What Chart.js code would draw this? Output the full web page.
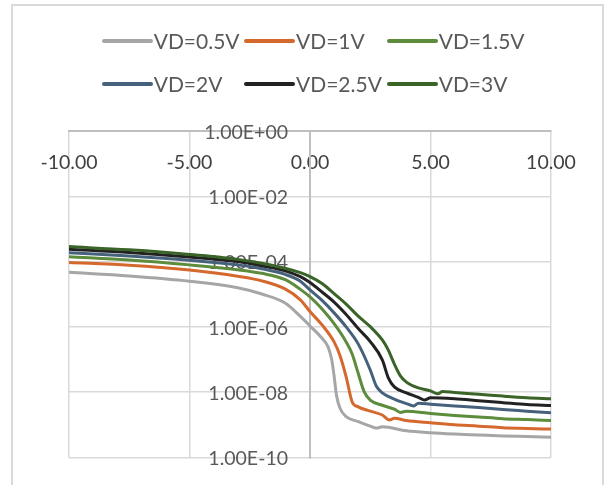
<!DOCTYPE html>
<html><head><meta charset="utf-8">
<script src="https://cdn.jsdelivr.net/npm/chart.js@4/dist/chart.umd.min.js"></script>
<style>
html,body{margin:0;padding:0;background:#fff;}
#wrap{position:relative;width:605px;height:485px;overflow:hidden;background:#fff;}
#frame{position:absolute;left:11px;top:4px;width:593px;height:520px;border:2px solid #d9d9d9;box-sizing:border-box;}
#c{position:absolute;left:0;top:0;}
#legend{position:absolute;left:0;top:0;width:605px;height:110px;font-family:Lato,"Liberation Sans",sans-serif;font-size:21px;color:#595959;}
.item{position:absolute;height:26px;line-height:26px;white-space:nowrap;}
.swatch{position:absolute;left:0;top:11px;width:51px;height:4px;border-radius:2px;}
.label{position:absolute;left:52px;top:0;}
</style>
</head><body>
<div id="wrap">
  <div id="frame"></div>
  <canvas id="c" width="605" height="485"></canvas>
  <div id="legend"></div>
</div>
<script>
// ---- data (gate voltage in V, drain current in A) ----
const seriesLabels = ['VD=0.5V','VD=1V','VD=1.5V','VD=2V','VD=2.5V','VD=3V'];

const vg05 = [-10,-7.5,-5,-3,-2,-1,-0.4,0,0.5,0.75,0.9,1.0,1.1,1.25,1.5,2,2.5,2.75,3,4,5,6,7,8,9,10];
const id05 = [4.68e-5,3.63e-5,2.51e-5,1.58e-5,1.02e-5,5.25e-6,2.09e-6,1.07e-6,4.47e-7,2.45e-7,1.0e-7,3.16e-8,7.94e-9,3.16e-9,1.78e-9,1.26e-9,9.12e-10,7.94e-10,8.71e-10,6.61e-10,5.75e-10,5.25e-10,4.90e-10,4.57e-10,4.37e-10,4.17e-10];

const vg10 = [-10,-7.5,-5,-3,-2,-1,-0.4,0,0.5,1,1.25,1.5,1.75,2,2.5,3,3.3,3.5,4,5,6,7,8,9,10];
const id10 = [9.33e-5,7.76e-5,5.50e-5,3.55e-5,2.57e-5,1.41e-5,6.76e-6,2.95e-6,1.15e-6,3.47e-7,1.29e-7,2.95e-8,5.01e-9,3.55e-9,2.63e-9,2.00e-9,1.41e-9,1.58e-9,1.35e-9,1.15e-9,1.00e-9,9.12e-10,8.13e-10,7.76e-10,7.41e-10];

const vg15 = [-10,-7.5,-5,-3,-2,-1,-0.4,0,0.5,1,1.5,1.75,2,2.25,2.5,3,3.5,3.75,4,5,6,7,8,9,10];
const id15 = [1.41e-4,1.12e-4,7.94e-5,5.62e-5,4.37e-5,2.75e-5,1.41e-5,8.32e-6,3.55e-6,1.26e-6,3.47e-7,1.48e-7,3.80e-8,1.02e-8,5.75e-9,3.98e-9,3.02e-9,2.40e-9,2.63e-9,2.24e-9,1.95e-9,1.74e-9,1.55e-9,1.45e-9,1.35e-9];

const vg20 = [-10,-7.5,-5,-3,-2,-1,-0.4,0,0.5,1,1.5,2,2.5,2.75,3,3.5,4,4.3,4.5,5,6,7,8,9,10];
const id20 = [1.86e-4,1.48e-4,1.10e-4,7.94e-5,6.03e-5,3.98e-5,2.51e-5,1.35e-5,6.46e-6,2.69e-6,1.00e-6,3.02e-7,4.79e-8,1.55e-8,9.55e-9,6.17e-9,4.47e-9,3.80e-9,4.57e-9,4.27e-9,3.80e-9,3.39e-9,2.95e-9,2.63e-9,2.34e-9];

const vg25 = [-10,-7.5,-5,-3,-2,-1,-0.4,0,0.5,1,1.5,2,2.5,3,3.25,3.5,4,4.5,4.75,5,6,7,8,9,10];
const id25 = [2.40e-4,1.91e-4,1.38e-4,1.00e-4,7.41e-5,5.13e-5,3.47e-5,2.29e-5,1.17e-5,5.75e-6,2.40e-6,8.91e-7,3.55e-7,9.77e-8,2.75e-8,1.45e-8,9.55e-9,6.92e-9,5.75e-9,6.76e-9,6.31e-9,5.50e-9,4.79e-9,4.17e-9,3.89e-9];

const vg30 = [-10,-7.5,-5,-3,-2,-1,-0.4,0,0.5,1,1.5,2,2.5,3,3.25,3.5,3.75,4,4.5,5,5.3,5.5,6,7,8,9,10];
const id30 = [2.88e-4,2.29e-4,1.66e-4,1.17e-4,8.91e-5,6.17e-5,4.57e-5,3.47e-5,2.14e-5,1.05e-5,5.01e-6,2.14e-6,1.02e-6,3.98e-7,1.95e-7,7.24e-8,3.16e-8,2.04e-8,1.35e-8,1.10e-8,8.91e-9,1.05e-8,9.77e-9,8.71e-9,7.59e-9,6.76e-9,6.31e-9];

const xTickVals = [-10,-5,0,5,10];
const xTickLabels = ['-10.00','-5.00','0.00','5.00','10.00'];
const yTickVals = [1e-10,1e-8,1e-6,1e-4,1e-2,1];
const yTickLabels = ['1.00E-10','1.00E-08','1.00E-06','1.00E-04','1.00E-02','1.00E+00'];

// ---- styling ----
const colors = ['#a6a6a6','#d5682d','#5c8c3c','#45617c','#222222','#3b6428'];
const xs = [vg05,vg10,vg15,vg20,vg25,vg30];
const ys = [id05,id10,id15,id20,id25,id30];

const datasets = seriesLabels.map((lab,i)=>({
  label: lab,
  data: xs[i].map((x,j)=>({x:x, y:ys[i][j]})),
  borderColor: colors[i],
  backgroundColor: colors[i],
  borderWidth: 3,
  pointRadius: 0,
  showLine: true,
  fill: false,
  cubicInterpolationMode: 'monotone',
  order: 5 - i
}));

const FONT = 'Lato';

// y tick labels sit 22px left of the y axis, which crosses at x = 0
const yLabelShift = {
  id: 'yLabelShift',
  afterLayout(chart){
    const ys = chart.scales.y, xsS = chart.scales.x;
    const orig = Object.getPrototypeOf(ys)._computeLabelItems;
    ys._computeLabelItems = function(ca){
      const items = orig.call(this, ca);
      const ax = xsS.getPixelForValue(0) - 22;
      items.forEach(it=>{ it.options.translation[0] = ax; it.options.translation[1] += 1.5; it.options.textAlign = 'right'; });
      return items;
    };
  }
};

const chart = new Chart(document.getElementById('c').getContext('2d'), {
  type: 'scatter',
  data: { datasets },
  options: {
    responsive: false,
    animation: false,
    layout: { padding: { left: 69, top: 131, right: 54, bottom: 27.5 } },
    plugins: { legend: { display: false }, tooltip: { enabled: false } },
    scales: {
      x: {
        type: 'linear', min: -10, max: 10,
        position: { y: 1 },
        afterBuildTicks: s => { s.ticks = xTickVals.map(v => ({ value: v })); },
        afterFit: s => { s.height = 0; },
        grid: { color: '#d9d9d9', lineWidth: 1.5, drawTicks: false },
        border: { color: '#bfbfbf', width: 2 },
        ticks: {
          padding: 20.5, color: '#404040', maxRotation: 0, autoSkip: false,
          font: { family: FONT, size: 19.5 },
          callback: v => xTickLabels[xTickVals.indexOf(v)]
        }
      },
      y: {
        type: 'logarithmic', min: 1e-10, max: 1,
        position: { x: 0 },
        afterBuildTicks: s => { s.ticks = yTickVals.map(v => ({ value: v })); },
        afterFit: s => { s.width = 0; },
        grid: { color: '#d9d9d9', lineWidth: 1.5, drawTicks: false },
        border: { color: '#bfbfbf', width: 2 },
        ticks: {
          padding: 0, color: '#595959', autoSkip: false,
          font: { family: FONT, size: 19.5 },
          callback: v => yTickLabels[yTickVals.indexOf(v)]
        }
      }
    }
  },
  plugins: [yLabelShift]
});

// ---- legend (Excel style grid, built from the chart datasets) ----
const legendCols = [101.7, 244, 386.7];
const legendRows = [40.5, 84];
const leg = document.getElementById('legend');
chart.data.datasets.forEach((ds, i) => {
  const item = document.createElement('div');
  item.className = 'item';
  item.style.left = legendCols[i % 3] + 'px';
  item.style.top = (legendRows[Math.floor(i / 3)] - 13) + 'px';
  const sw = document.createElement('span');
  sw.className = 'swatch';
  sw.style.background = ds.borderColor;
  const tx = document.createElement('span');
  tx.className = 'label';
  tx.textContent = ds.label;
  item.appendChild(sw); item.appendChild(tx);
  leg.appendChild(item);
});
</script>
</body></html>
